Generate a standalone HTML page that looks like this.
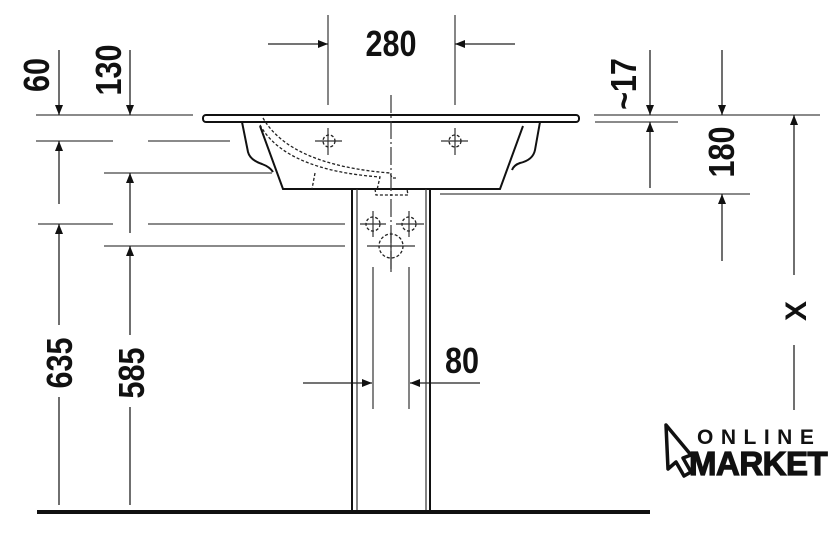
<!DOCTYPE html>
<html><head><meta charset="utf-8"><style>
html,body{margin:0;padding:0;background:#fff}
svg{display:block}
text{font-family:"Liberation Sans",sans-serif;font-weight:bold;fill:#111}
</style></head><body>
<svg width="840" height="536" viewBox="0 0 840 536" xmlns="http://www.w3.org/2000/svg">
<defs>
<marker id="a" markerWidth="10" markerHeight="8" refX="10" refY="4" orient="auto" markerUnits="userSpaceOnUse"><path d="M0,0 L10,4 L0,8 Z" fill="#111"/></marker>
</defs>
<g stroke="#444" stroke-width="1.3" fill="none">
<line x1="36" y1="115" x2="193" y2="115"/>
<line x1="36" y1="141" x2="113" y2="141"/>
<line x1="148" y1="141" x2="230" y2="141"/>
<line x1="104" y1="173" x2="272" y2="173"/>
<line x1="38" y1="224" x2="113" y2="224"/>
<line x1="148" y1="224" x2="345" y2="224"/>
<line x1="104" y1="246" x2="345" y2="246"/>
<line x1="594" y1="115" x2="820" y2="115"/>
<line x1="595" y1="122" x2="678" y2="122"/>
<line x1="440" y1="194" x2="750" y2="194"/>
<line x1="328" y1="15" x2="328" y2="105"/>
<line x1="455" y1="15" x2="455" y2="105"/>
</g>
<g stroke="#222" stroke-width="1.3" fill="none" marker-end="url(#a)">
<line x1="59" y1="50" x2="59" y2="115"/>
<line x1="59" y1="204" x2="59" y2="141"/>
<line x1="59" y1="505" x2="59" y2="224"/>
<line x1="130" y1="50" x2="130" y2="115"/>
<line x1="130" y1="233" x2="130" y2="173"/>
<line x1="130" y1="505" x2="130" y2="246"/>
<line x1="650" y1="50" x2="650" y2="115"/>
<line x1="650" y1="188" x2="650" y2="122"/>
<line x1="722" y1="50" x2="722" y2="115"/>
<line x1="722" y1="261" x2="722" y2="194"/>
<line x1="794" y1="275" x2="794" y2="115"/>
<line x1="268" y1="44" x2="328" y2="44"/>
<line x1="515" y1="44" x2="455" y2="44"/>
<line x1="303" y1="383" x2="372" y2="383"/>
<line x1="480" y1="383" x2="410" y2="383"/>
</g>
<line x1="794" y1="345" x2="794" y2="410" stroke="#222" stroke-width="1.3"/>
<!-- gaps for rotated labels -->
<rect x="40" y="325" width="38" height="72" fill="#fff"/>
<rect x="112" y="335" width="38" height="72" fill="#fff"/>
<g stroke="#111" fill="none" stroke-width="2">
<rect x="203" y="115" width="376" height="7" rx="3"/>
<path d="M242,122 L248,152 Q250,160 262,164 Q270,167 273,172"/>
<path d="M260,126 L283,189 L500,189 L523,126"/>
<path d="M540,122 L535,150 Q533,160 520,163 Q514,165 512,170"/>
<line x1="352" y1="189" x2="352" y2="512"/>
<line x1="430" y1="189" x2="430" y2="512"/>
</g>
<g stroke="#333" fill="none" stroke-width="1.2">
<line x1="357" y1="189" x2="357" y2="512"/>
<line x1="426" y1="189" x2="426" y2="512"/>
<line x1="373" y1="267" x2="373" y2="409"/>
<line x1="409" y1="267" x2="409" y2="409"/>
<line x1="391" y1="95" x2="391" y2="272" stroke-dasharray="18,3,2,3"/>
<line x1="315" y1="141" x2="342" y2="141"/><line x1="328" y1="128" x2="328" y2="155"/>
<line x1="441" y1="141" x2="468" y2="141"/><line x1="455" y1="128" x2="455" y2="155"/>
<line x1="360" y1="224" x2="386" y2="224"/><line x1="373" y1="211" x2="373" y2="237"/>
<line x1="396" y1="224" x2="424" y2="224"/><line x1="409" y1="211" x2="409" y2="237"/>
<line x1="367" y1="246" x2="415" y2="246"/><line x1="391" y1="232" x2="391" y2="272"/>
</g>
<g stroke="#222" fill="none" stroke-width="1.3" stroke-dasharray="3,2">
<circle cx="329" cy="141" r="6"/>
<circle cx="455" cy="141" r="6"/>
<circle cx="373" cy="224" r="7"/>
<circle cx="409" cy="224" r="7"/>
<circle cx="391" cy="246" r="12"/>
<path d="M263,118 Q290,165 390,173 L392,178 L398,178"/>
<path d="M260,125 Q285,170 380,177 L377,190"/>
<path d="M315,173 L312,189"/>
<path d="M375,189 L376,195 L408,195 L407,189"/>
</g>
<line x1="37" y1="512" x2="650" y2="512" stroke="#111" stroke-width="4"/>
<g font-size="36">
<text x="391" y="56" text-anchor="middle" transform="translate(391,0) scale(0.85,1) translate(-391,0)">280</text>
<text x="462" y="373" text-anchor="middle" transform="translate(462,0) scale(0.85,1) translate(-462,0)">80</text>
<text transform="translate(49,75) rotate(-90) scale(0.85,1)" text-anchor="middle">60</text>
<text transform="translate(121,70) rotate(-90) scale(0.85,1)" text-anchor="middle">130</text>
<text transform="translate(72,363) rotate(-90) scale(0.85,1)" text-anchor="middle">635</text>
<text transform="translate(144,373) rotate(-90) scale(0.85,1)" text-anchor="middle">585</text>
<text transform="translate(636,84) rotate(-90) scale(0.85,1)" text-anchor="middle">~17</text>
<text transform="translate(734,152) rotate(-90) scale(0.85,1)" text-anchor="middle">180</text>
<text transform="translate(806,311) rotate(-90)" text-anchor="middle" font-size="30">X</text>
</g>
<path d="M666,425 L691,455 L683,458 L691,472 L684,476 L676,462 L668,469 Z" fill="none" stroke="#111" stroke-width="3.5" stroke-linejoin="round"/>
<text x="697" y="444" font-size="21" letter-spacing="7.5">ONLINE</text>
<text x="689" y="475" font-size="33" letter-spacing="-0.5" stroke="#111" stroke-width="1.2">MARKET</text>
</svg>
</body></html>
